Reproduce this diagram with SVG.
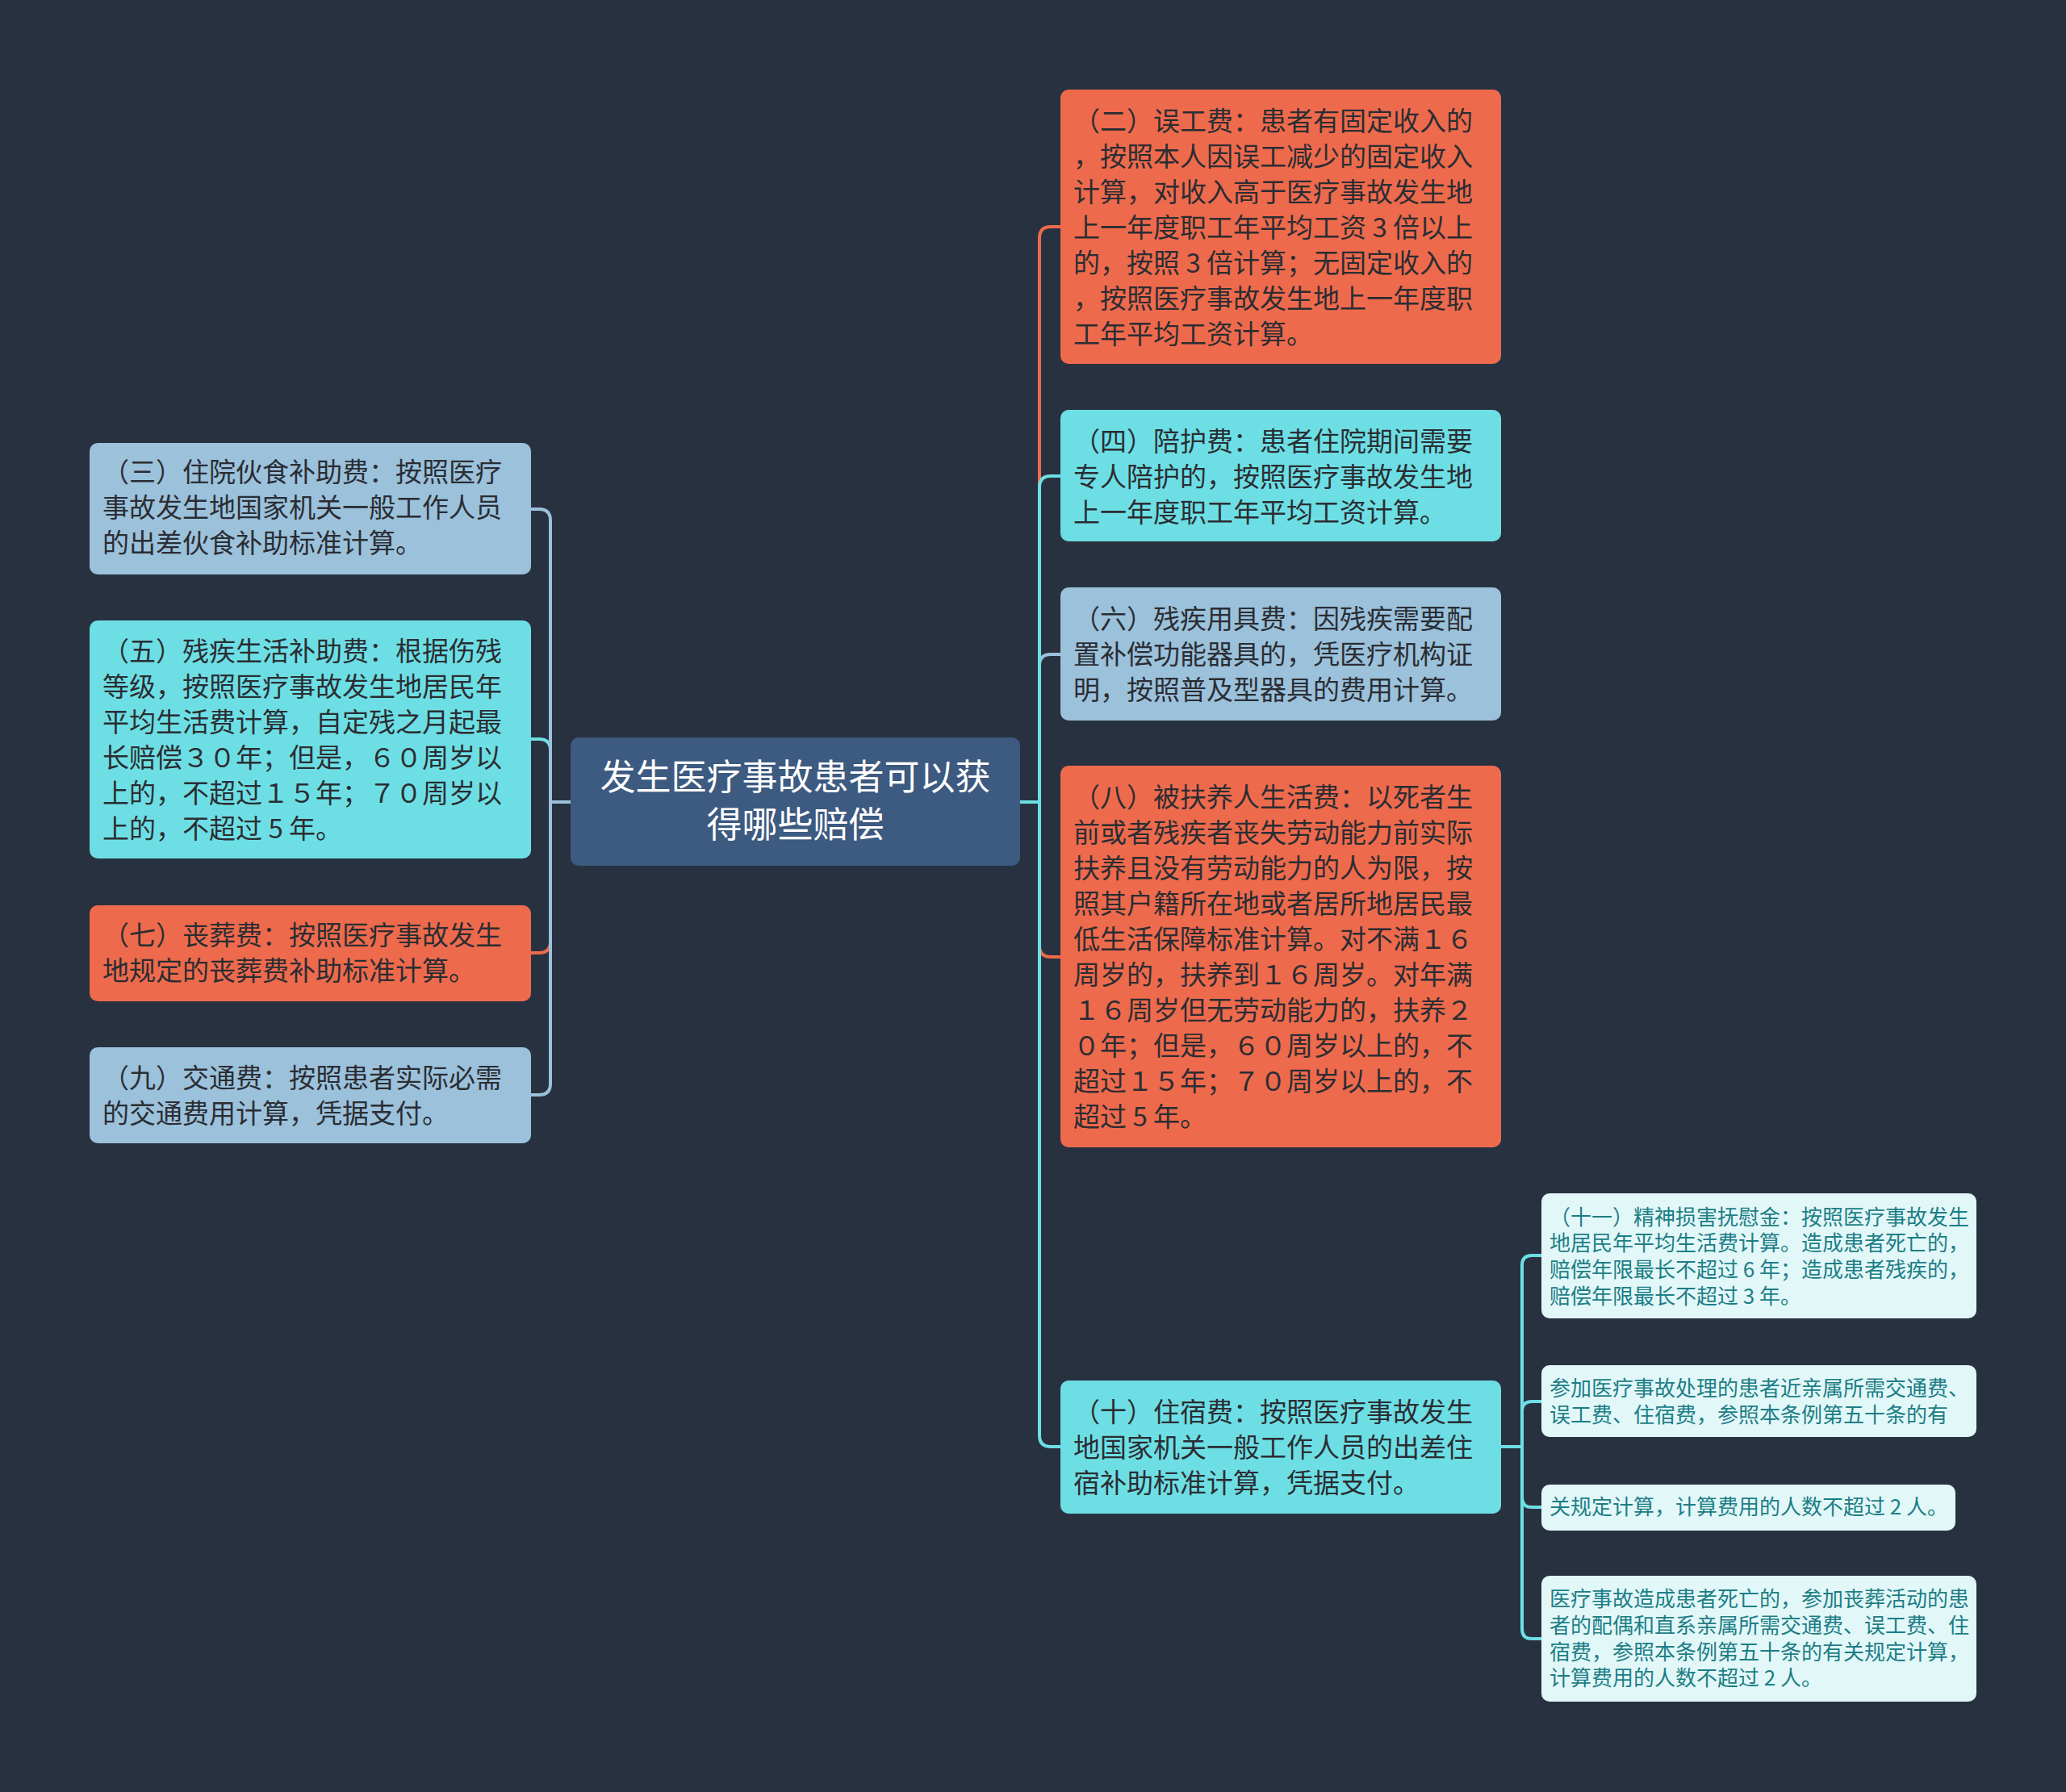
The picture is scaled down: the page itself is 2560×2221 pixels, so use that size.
<svg xmlns="http://www.w3.org/2000/svg" width="2560" height="2221" viewBox="0 0 2560 2221">
<defs>
<style>
.bg{fill:#283140}
.c{fill:none;stroke-width:4}
.or{fill:#ee6a4c}
.cy{fill:#6ddfe4}
.lb{fill:#9bc1db}
.sub{fill:#e2f7f8}
.so{stroke:#ee6a4c}
.sc{stroke:#6ddfe4}
.sl{stroke:#9bc1db}
text{font-family:"Noto Sans CJK SC","Noto Sans",sans-serif}
.t{font-size:33px;fill:#2b2d33}
.ts{font-size:26px;fill:#1c7e86}
.tc{font-size:44px;fill:#ffffff;text-anchor:middle}
</style>
</defs>
<rect class="bg" x="0" y="0" width="2560" height="2221"/>
<g id="connectors">
<path class="c so" d="M1264 994 H1288 V295 Q1288 281 1302 281 H1314"/>
<path class="c so" d="M1264 994 H1288 V1172 Q1288 1186 1302 1186 H1314"/>
<path class="c sl" d="M1264 994 H1288 V825 Q1288 811 1302 811 H1314"/>
<path class="c sc" d="M1264 994 H1288 V604 Q1288 590 1302 590 H1314"/>
<path class="c sc" d="M1264 994 H1288 V1779 Q1288 1793 1302 1793 H1314"/>
<path class="c sc" d="M707 994 H682 V930 Q682 916 668 916 H658"/>
<path class="c so" d="M707 994 H682 V1167 Q682 1181 668 1181 H658"/>
<path class="c sl" d="M707 994 H682 V645 Q682 631 668 631 H658"/>
<path class="c sl" d="M707 994 H682 V1343 Q682 1357 668 1357 H658"/>
<path class="c sc" d="M1860 1793 H1886 V1568 Q1886 1556 1898 1556 H1910"/>
<path class="c sc" d="M1860 1793 H1886 V1749 Q1886 1737 1898 1737 H1910"/>
<path class="c sc" d="M1860 1793 H1886 V1856 Q1886 1868 1898 1868 H1910"/>
<path class="c sc" d="M1860 1793 H1886 V2019 Q1886 2031 1898 2031 H1910"/>
</g>
<g id="root">
<rect x="707" y="914" width="557" height="159" rx="10" fill="#3d5a80"/>
<text class="tc" x="985.5" y="979">发生医疗事故患者可以获</text>
<text class="tc" x="985.5" y="1038">得哪些赔偿</text>
</g>
<g id="n2">
<rect class="or" x="1314" y="111" width="546" height="340" rx="10"/>
<text class="t" x="1330" y="162">（二）误工费：患者有固定收入的</text>
<text class="t" x="1330" y="206">，按照本人因误工减少的固定收入</text>
<text class="t" x="1330" y="250">计算，对收入高于医疗事故发生地</text>
<text class="t" x="1330" y="294">上一年度职工年平均工资 3 倍以上</text>
<text class="t" x="1330" y="338">的，按照 3 倍计算；无固定收入的</text>
<text class="t" x="1330" y="382">，按照医疗事故发生地上一年度职</text>
<text class="t" x="1330" y="426">工年平均工资计算。</text>
</g>
<g id="n4">
<rect class="cy" x="1314" y="508" width="546" height="163" rx="10"/>
<text class="t" x="1330" y="559">（四）陪护费：患者住院期间需要</text>
<text class="t" x="1330" y="603">专人陪护的，按照医疗事故发生地</text>
<text class="t" x="1330" y="647">上一年度职工年平均工资计算。</text>
</g>
<g id="n6">
<rect class="lb" x="1314" y="728" width="546" height="165" rx="10"/>
<text class="t" x="1330" y="779">（六）残疾用具费：因残疾需要配</text>
<text class="t" x="1330" y="823">置补偿功能器具的，凭医疗机构证</text>
<text class="t" x="1330" y="867">明，按照普及型器具的费用计算。</text>
</g>
<g id="n8">
<rect class="or" x="1314" y="949" width="546" height="473" rx="10"/>
<text class="t" x="1330" y="1000">（八）被扶养人生活费：以死者生</text>
<text class="t" x="1330" y="1044">前或者残疾者丧失劳动能力前实际</text>
<text class="t" x="1330" y="1088">扶养且没有劳动能力的人为限，按</text>
<text class="t" x="1330" y="1132">照其户籍所在地或者居所地居民最</text>
<text class="t" x="1330" y="1176">低生活保障标准计算。对不满１６</text>
<text class="t" x="1330" y="1220">周岁的，扶养到１６周岁。对年满</text>
<text class="t" x="1330" y="1264">１６周岁但无劳动能力的，扶养２</text>
<text class="t" x="1330" y="1308">０年；但是，６０周岁以上的，不</text>
<text class="t" x="1330" y="1352">超过１５年；７０周岁以上的，不</text>
<text class="t" x="1330" y="1396">超过 5 年。</text>
</g>
<g id="n10">
<rect class="cy" x="1314" y="1711" width="546" height="165" rx="10"/>
<text class="t" x="1330" y="1762">（十）住宿费：按照医疗事故发生</text>
<text class="t" x="1330" y="1806">地国家机关一般工作人员的出差住</text>
<text class="t" x="1330" y="1850">宿补助标准计算，凭据支付。</text>
</g>
<g id="n3">
<rect class="lb" x="111" y="549" width="547" height="163" rx="10"/>
<text class="t" x="127" y="597">（三）住院伙食补助费：按照医疗</text>
<text class="t" x="127" y="641">事故发生地国家机关一般工作人员</text>
<text class="t" x="127" y="685">的出差伙食补助标准计算。</text>
</g>
<g id="n5">
<rect class="cy" x="111" y="769" width="547" height="295" rx="10"/>
<text class="t" x="127" y="819">（五）残疾生活补助费：根据伤残</text>
<text class="t" x="127" y="863">等级，按照医疗事故发生地居民年</text>
<text class="t" x="127" y="907">平均生活费计算，自定残之月起最</text>
<text class="t" x="127" y="951">长赔偿３０年；但是，６０周岁以</text>
<text class="t" x="127" y="995">上的，不超过１５年；７０周岁以</text>
<text class="t" x="127" y="1039">上的，不超过 5 年。</text>
</g>
<g id="n7">
<rect class="or" x="111" y="1122" width="547" height="119" rx="10"/>
<text class="t" x="127" y="1171">（七）丧葬费：按照医疗事故发生</text>
<text class="t" x="127" y="1215">地规定的丧葬费补助标准计算。</text>
</g>
<g id="n9">
<rect class="lb" x="111" y="1298" width="547" height="119" rx="10"/>
<text class="t" x="127" y="1348">（九）交通费：按照患者实际必需</text>
<text class="t" x="127" y="1392">的交通费用计算，凭据支付。</text>
</g>
<g id="n11">
<rect class="sub" x="1910" y="1479" width="539" height="155" rx="10"/>
<text class="ts" x="1920" y="1518">（十一）精神损害抚慰金：按照医疗事故发生</text>
<text class="ts" x="1920" y="1550">地居民年平均生活费计算。造成患者死亡的，</text>
<text class="ts" x="1920" y="1583">赔偿年限最长不超过 6 年；造成患者残疾的，</text>
<text class="ts" x="1920" y="1616">赔偿年限最长不超过 3 年。</text>
</g>
<g id="s2">
<rect class="sub" x="1910" y="1692" width="539" height="89" rx="10"/>
<text class="ts" x="1920" y="1730">参加医疗事故处理的患者近亲属所需交通费、</text>
<text class="ts" x="1920" y="1763">误工费、住宿费，参照本条例第五十条的有</text>
</g>
<g id="s3">
<rect class="sub" x="1910" y="1840" width="513" height="57" rx="10"/>
<text class="ts" x="1920" y="1877">关规定计算，计算费用的人数不超过 2 人。</text>
</g>
<g id="s4">
<rect class="sub" x="1910" y="1953" width="539" height="156" rx="10"/>
<text class="ts" x="1920" y="1991">医疗事故造成患者死亡的，参加丧葬活动的患</text>
<text class="ts" x="1920" y="2024">者的配偶和直系亲属所需交通费、误工费、住</text>
<text class="ts" x="1920" y="2057">宿费，参照本条例第五十条的有关规定计算，</text>
<text class="ts" x="1920" y="2089">计算费用的人数不超过 2 人。</text>
</g>
</svg>
